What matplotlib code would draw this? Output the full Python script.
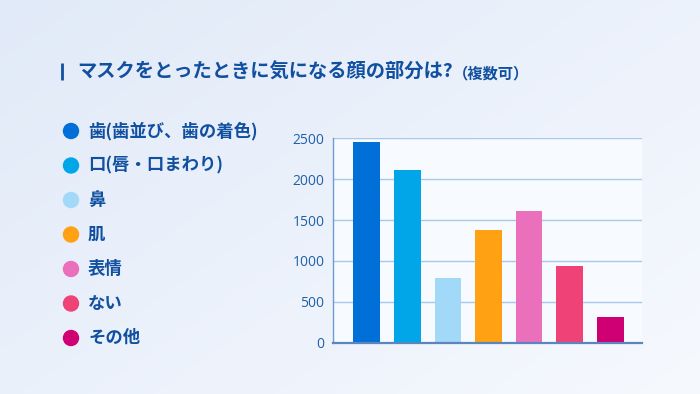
import numpy as np
import matplotlib
matplotlib.use("Agg")
import matplotlib.pyplot as plt
from matplotlib.patches import Circle

plt.rcParams['font.family'] = ['Noto Sans CJK JP', 'DejaVu Sans']

# data
categories = ["歯(歯並び、歯の着色)", "口(唇・口まわり)", "鼻", "肌", "表情", "ない", "その他"]
values = [2450, 2110, 790, 1375, 1610, 940, 320]
colors = ["#0070d8", "#00a6e8", "#a2d8f8", "#ffa112", "#ea70bb", "#ef4277", "#cf0073"]
yticks = [0, 500, 1000, 1500, 2000, 2500]

TXT = "#1150a0"
W, H = 700, 394

fig = plt.figure(figsize=(W / 100, H / 100), dpi=100)

# background gradient, pixel coords
bg = fig.add_axes([0, 0, 1, 1])
yy, xx = np.mgrid[0:1:200j, 0:1:300j]
t = np.clip(0.55 * xx + 0.45 * yy, 0, 1)
c0 = np.array([0xe1, 0xea, 0xf8]) / 255
c1 = np.array([0xf6, 0xf9, 0xfe]) / 255
img = c0[None, None, :] * (1 - t[..., None]) + c1[None, None, :] * t[..., None]
bg.imshow(img, extent=[0, W, H, 0], aspect="auto", zorder=0)
bg.set_xlim(0, W)
bg.set_ylim(H, 0)
bg.axis("off")

# title
bg.plot([62, 62], [63, 80], color=TXT, lw=2, solid_capstyle="butt")
bg.text(77, 72, "マスクをとったときに気になる顔の部分は?", color=TXT, fontsize=13.9,
        fontweight="bold", va="center", ha="left")
bg.text(453, 73, "（複数可）", color=TXT, fontsize=11, fontweight="bold",
        va="center", ha="left")

# legend
for i, (lab, col) in enumerate(zip(categories, colors)):
    y = 131 + i * 34.5
    bg.add_patch(Circle((71, y), 7.5, color=col, zorder=2))
    bg.text(88, y, lab, color=TXT, fontsize=12.5, fontweight="bold", va="center", ha="left")

# bar chart
ax = fig.add_axes([332.7 / W, (H - 342.7) / H, 309 / W, 204.4 / H])
ax.set_facecolor("#f7faff")
x = np.arange(len(values))
ax.bar(x, values, width=0.655, color=colors, zorder=3)
ax.set_xlim(-0.835, 6.77)
ax.set_ylim(0, 2500)
ax.set_yticks(yticks)
ax.set_xticks([])
ax.yaxis.grid(True, color="#a9c9ea", lw=1, zorder=1)
ax.tick_params(axis="y", length=0, pad=6, labelsize=10, labelcolor="#2060a8")
for lab in ax.get_yticklabels():
    lab.set_family(["Open Sans", "DejaVu Sans"])
for s in ["top", "right"]:
    ax.spines[s].set_visible(False)
ax.spines["left"].set_color("#6d9bd2")
ax.spines["left"].set_linewidth(1)
ax.spines["bottom"].set_color("#5b86bd")
ax.spines["bottom"].set_linewidth(1.6)
ax.spines["bottom"].set_zorder(4)

fig.savefig("out.png", dpi=100)
